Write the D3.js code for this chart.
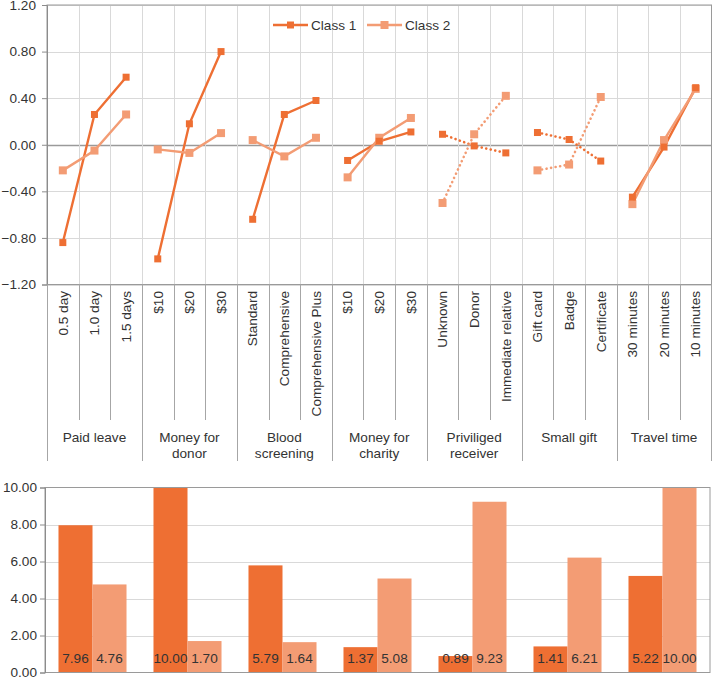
<!DOCTYPE html>
<html><head><meta charset="utf-8">
<script src="https://cdn.jsdelivr.net/npm/d3@7"></script>
<style>
body{margin:0;background:#fff;}
svg{display:block;font-family:"Liberation Sans",Arial,sans-serif;}
</style></head>
<body><svg id="c" width="713" height="678"></svg>
<script>
// ---- data ----
const groups = ["Paid leave","Money for donor","Blood screening","Money for charity","Priviliged receiver","Small gift","Travel time"];
const groupLines = [["Paid leave"],["Money for","donor"],["Blood","screening"],["Money for","charity"],["Priviliged","receiver"],["Small gift"],["Travel time"]];
const levels = [
  ["0.5 day","1.0 day","1.5 days"],
  ["$10","$20","$30"],
  ["Standard","Comprehensive","Comprehensive Plus"],
  ["$10","$20","$30"],
  ["Unknown","Donor","Immediate relative"],
  ["Gift card","Badge","Certificate"],
  ["30 minutes","20 minutes","10 minutes"]
];
const dottedGroups = [4,5];
const class1 = [[-0.84,0.26,0.58],[-0.98,0.18,0.80],[-0.64,0.26,0.38],[-0.135,0.03,0.11],[0.09,-0.01,-0.07],[0.105,0.045,-0.14],[-0.45,-0.02,0.49]];
const class2 = [[-0.22,-0.05,0.26],[-0.04,-0.07,0.10],[0.04,-0.10,0.06],[-0.28,0.06,0.23],[-0.50,0.09,0.42],[-0.22,-0.17,0.41],[-0.51,0.04,0.48]];
const yTicksTop = [-1.2,-0.8,-0.4,0,0.4,0.8,1.2];
const importance1 = [7.96,10.00,5.79,1.37,0.89,1.41,5.22];
const importance2 = [4.76,1.70,1.64,5.08,9.23,6.21,10.00];
const yTicksBottom = [0,2,4,6,8,10];
const seriesNames = ["Class 1","Class 2"];
const colors = ["#ee6f33","#f39c74"];

const svg = d3.select("#c");
const textCol = "#333";
const gridCol = "#d9d9d9";
const axisCol = "#8c8c8c";
const fs = 13.6;

// ---- top line chart ----
const cats = [];
levels.forEach((lv,g)=>lv.forEach((l,i)=>cats.push({g,i,label:l,key:g+"_"+i})));
const L=47, R=711.5, T=5, B=284.5;
const x = d3.scaleBand().domain(cats.map(c=>c.key)).range([L,R]);
const y = d3.scaleLinear().domain([-1.2,1.2]).range([B,T]);

const topG = svg.append("g");
topG.selectAll(".hg").data(yTicksTop).join("line")
  .attr("x1",L).attr("x2",R).attr("y1",d=>Math.round(y(d))+0.5).attr("y2",d=>Math.round(y(d))+0.5)
  .attr("stroke",d=>d===0?"#9a9a9a":gridCol).attr("stroke-width",d=>d===0?1.5:1);
topG.selectAll(".vg").data(cats.slice(1)).join("line")
  .attr("x1",d=>Math.round(x(d.key))+0.5).attr("x2",d=>Math.round(x(d.key))+0.5)
  .attr("y1",T).attr("y2",B).attr("stroke",gridCol);
topG.append("rect").attr("x",L).attr("y",T).attr("width",R-L).attr("height",B-T)
  .attr("fill","none").attr("stroke","#9a9a9a");
const yAxT = d3.axisLeft(y).tickValues(yTicksTop).tickFormat(d3.format(".2f")).tickSize(5).tickPadding(6);
const gy = topG.append("g").attr("transform",`translate(${L},0)`).call(yAxT);
gy.select(".domain").attr("stroke",axisCol);
gy.selectAll(".tick line").attr("stroke",axisCol);
gy.selectAll("text").attr("fill",textCol).attr("font-size",fs).attr("font-family","Liberation Sans, Arial, sans-serif");

cats.forEach((c,k)=>{
  if(k===0) return;
  const xx = Math.round(x(c.key))+0.5;
  topG.append("line").attr("x1",xx).attr("x2",xx).attr("y1",B).attr("y2",c.i===0?461:420)
    .attr("stroke","#a6a6a6");
});
topG.append("line").attr("x1",L+0.5).attr("x2",L+0.5).attr("y1",B).attr("y2",461).attr("stroke","#a6a6a6");
topG.append("line").attr("x1",R).attr("x2",R).attr("y1",B).attr("y2",461).attr("stroke","#a6a6a6");
topG.selectAll(".cl").data(cats).join("text")
  .attr("transform",d=>`translate(${x(d.key)+x.bandwidth()/2+4.8},291) rotate(-90)`)
  .attr("text-anchor","end").attr("font-size",fs).attr("fill",textCol).text(d=>d.label);
groupLines.forEach((lines,g)=>{
  const cx = (x(g+"_0") + x(g+"_2")+x.bandwidth())/2;
  lines.forEach((t,j)=>{
    topG.append("text").attr("x",cx).attr("y",442+j*16).attr("text-anchor","middle")
      .attr("font-size",fs).attr("fill",textCol).text(t);
  });
});

const lineGen = d3.line().x(d=>d.x).y(d=>d.y);
[class1,class2].forEach((series,s)=>{
  series.forEach((vals,g)=>{
    const pts = vals.map((v,i)=>({x:x(g+"_"+i)+x.bandwidth()/2,y:y(v)}));
    const dotted = dottedGroups.includes(g);
    topG.append("path").attr("d",lineGen(pts)).attr("fill","none").attr("stroke",colors[s])
      .attr("stroke-width",dotted?2.6:2.4)
      .attr("stroke-dasharray",dotted?"0.1,4.5":null).attr("stroke-linecap",dotted?"round":"butt");
  });
});
[class2,class1].forEach((series,si)=>{
  const s = si===0?1:0;
  const sz = s===0?7:8;
  series.forEach((vals,g)=>{
    vals.forEach((v,i)=>{
      topG.append("rect").attr("x",x(g+"_"+i)+x.bandwidth()/2-sz/2).attr("y",y(v)-sz/2)
        .attr("width",sz).attr("height",sz).attr("fill",colors[s]);
    });
  });
});
const legX = [273,367];
seriesNames.forEach((n,s)=>{
  const lg = topG.append("g");
  lg.append("line").attr("x1",legX[s]).attr("x2",legX[s]+35).attr("y1",25).attr("y2",25)
    .attr("stroke",colors[s]).attr("stroke-width",2.4);
  const sz = s===0?7:8;
  lg.append("rect").attr("x",legX[s]+17.5-sz/2).attr("y",25-sz/2).attr("width",sz).attr("height",sz).attr("fill",colors[s]);
  lg.append("text").attr("x",legX[s]+38).attr("y",29.5).attr("font-size",fs).attr("fill",textCol).text(n);
});

// ---- bottom bar chart ----
const bL=45, bR=710, bT=487.5, bB=672.5;
const x0 = d3.scaleBand().domain(groups).range([bL,bR]).paddingInner(0.284).paddingOuter(0.142);
const x1 = d3.scaleBand().domain([0,1]).range([0,x0.bandwidth()]);
const yb = d3.scaleLinear().domain([0,10]).range([bB,bT]);
const botG = svg.append("g");
botG.selectAll(".bg").data(yTicksBottom.filter(d=>d>0&&d<10)).join("line")
  .attr("x1",bL).attr("x2",bR).attr("y1",d=>Math.round(yb(d))+0.5).attr("y2",d=>Math.round(yb(d))+0.5)
  .attr("stroke",gridCol);
const barData = [];
groups.forEach((g,gi)=>{
  barData.push({g,s:0,v:importance1[gi]});
  barData.push({g,s:1,v:importance2[gi]});
});
botG.selectAll(".bar").data(barData).join("rect")
  .attr("x",d=>x0(d.g)+x1(d.s)).attr("width",x1.bandwidth())
  .attr("y",d=>yb(d.v)).attr("height",d=>bB-yb(d.v)).attr("fill",d=>colors[d.s]);
botG.append("rect").attr("x",bL).attr("y",bT).attr("width",bR-bL).attr("height",bB-bT)
  .attr("fill","none").attr("stroke","#9a9a9a");
botG.selectAll(".bl").data(barData).join("text")
  .attr("x",d=>x0(d.g)+x1(d.s)+x1.bandwidth()/2).attr("y",663)
  .attr("text-anchor","middle").attr("font-size",fs).attr("fill",textCol)
  .text(d=>d.v.toFixed(2));
const yAxB = d3.axisLeft(yb).tickValues(yTicksBottom).tickFormat(d3.format(".2f")).tickSize(5).tickPadding(3);
const gyb = botG.append("g").attr("transform",`translate(${bL},0)`).call(yAxB);
gyb.select(".domain").attr("stroke",axisCol);
gyb.selectAll(".tick line").attr("stroke",axisCol);
gyb.selectAll("text").attr("fill",textCol).attr("font-size",fs).attr("font-family","Liberation Sans, Arial, sans-serif");
</script></body></html>
